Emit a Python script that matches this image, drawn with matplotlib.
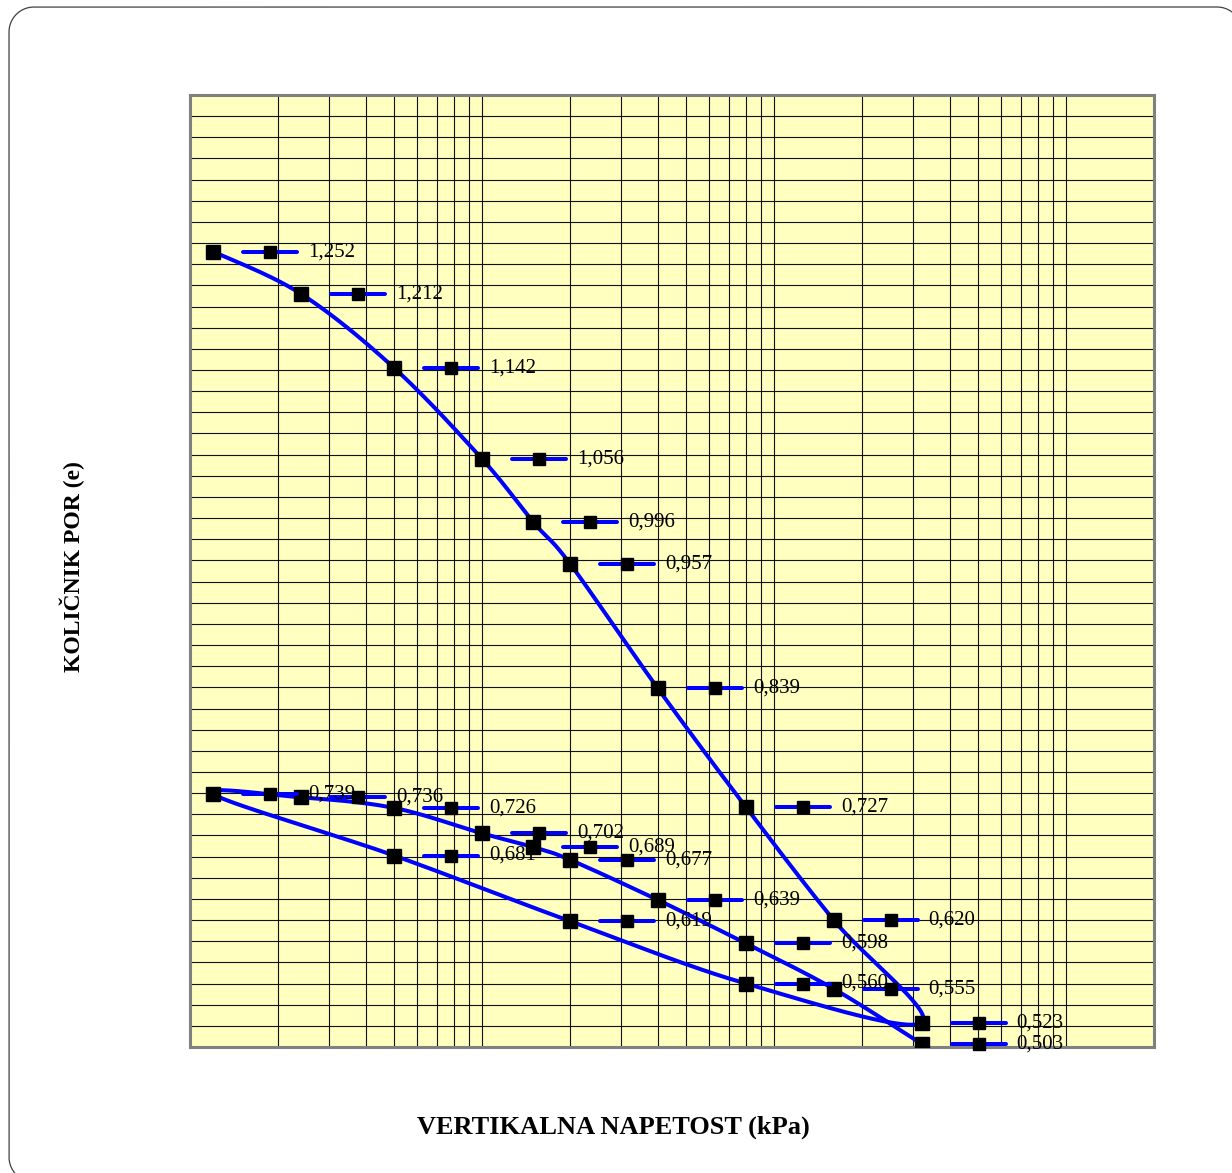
import numpy as np
import matplotlib
matplotlib.use("Agg")
import matplotlib.pyplot as plt
from matplotlib.lines import Line2D
from matplotlib.markers import MarkerStyle
from matplotlib.transforms import offset_copy, IdentityTransform
from matplotlib.ticker import FixedLocator, NullFormatter

# Oedometer test: loading, unloading and reloading steps
load_stress = [1.2, 2.4, 5, 10, 15, 20, 40, 80, 160, 320]
load_e = [1.252, 1.212, 1.142, 1.056, 0.996, 0.957, 0.839, 0.727, 0.620, 0.523]
unload_stress = [80, 20, 5, 1.2]
unload_e = [0.560, 0.619, 0.681, 0.739]
reload_stress = [2.4, 5, 10, 15, 20, 40, 80, 160, 320]
reload_e = [0.736, 0.726, 0.702, 0.689, 0.677, 0.639, 0.598, 0.555, 0.503]

x_label = "VERTIKALNA NAPETOST (kPa)"
y_label = "KOLIČNIK POR (e)"

stress = np.array(load_stress + unload_stress + reload_stress, dtype=float)
void_ratio = np.array(load_e + unload_e + reload_e, dtype=float)

W, H, DPI = 1232, 1173, 100
fig = plt.figure(figsize=(W / DPI, H / DPI), dpi=DPI)

# rounded chart-area frame (only the part lying inside the canvas)
R = 25.0
left, top = 9.0, H - 7.0
right_c, bottom_c = W + 10.0 - R, -9.0 + R


def arc(cx, cy, a0, a1):
    a = np.radians(np.linspace(a0, a1, 60))
    return cx + R * np.cos(a), cy + R * np.sin(a)


fx, fy = [], []
ax1, ay1 = arc(right_c, top - R, 53, 90)
fx += list(ax1); fy += list(ay1)
ax2, ay2 = arc(left + R, top - R, 90, 180)
fx += list(ax2); fy += list(ay2)
ax3, ay3 = arc(left + R, bottom_c, 180, 219)
fx += list(ax3); fy += list(ay3)
fig.add_artist(Line2D(fx, fy, transform=IdentityTransform(), color="#404040",
                      linewidth=0.9))

ax = fig.add_axes([190 / W, 1 - 1047 / H, 964 / W, 952 / H])
ax.set_facecolor("#FFFFC0")
ax.set_xscale("log")
ax.set_xlim(1, 2000)
ax.set_ylim(0.5, 1.4)

xgrid = [k * 10 ** n for n in range(4) for k in range(1, 10) if k * 10 ** n <= 2000]
ax.xaxis.set_major_locator(FixedLocator(xgrid))
ax.xaxis.set_minor_locator(FixedLocator([]))
ax.yaxis.set_major_locator(FixedLocator(np.round(np.arange(0.5, 1.4001, 0.02), 2)))
ax.xaxis.set_major_formatter(NullFormatter())
ax.yaxis.set_major_formatter(NullFormatter())
ax.tick_params(which="both", length=0)
ax.grid(True, which="major", color="#111111", linewidth=0.8)
ax.set_axisbelow(True)
for sp in ax.spines.values():
    sp.set_color("#808080")
    sp.set_linewidth(2.2)

# smoothed connecting curve (Catmull-Rom Bezier in display space)
pts = ax.transData.transform(np.column_stack([stress, void_ratio]))
n = len(pts)
curve = []
for i in range(n - 1):
    p0 = pts[max(i - 1, 0)]
    p1 = pts[i]
    p2 = pts[i + 1]
    p3 = pts[min(i + 2, n - 1)]
    c1 = p1 + (p2 - p0) / 6.0
    c2 = p2 - (p3 - p1) / 6.0
    t = np.linspace(0, 1, 40)[:, None]
    seg = ((1 - t) ** 3) * p1 + 3 * ((1 - t) ** 2) * t * c1 + 3 * (1 - t) * t ** 2 * c2 + t ** 3 * p2
    curve.append(seg if i == 0 else seg[1:])
curve = ax.transData.inverted().transform(np.vstack(curve))
ax.plot(curve[:, 0], curve[:, 1], color="#0000FF", linewidth=2.9,
        solid_capstyle="round", zorder=3)

ax.plot(stress, void_ratio, linestyle="none", marker="s", markersize=10.5,
        markerfacecolor="black", markeredgecolor="black", zorder=4)

# data labels with legend key
key_tr = offset_copy(ax.transData, fig=fig, x=57, y=0, units="dots")
key_line = MarkerStyle("_", capstyle="round")
ax.plot(stress, void_ratio, linestyle="none", marker=key_line, markersize=39.5,
        markeredgewidth=2.9, color="#0000FF", transform=key_tr, zorder=5,
        clip_on=False)
ax.plot(stress, void_ratio, linestyle="none", marker="s", markersize=8.6,
        markerfacecolor="black", markeredgecolor="black", transform=key_tr,
        zorder=6, clip_on=False)
for s, e in zip(stress, void_ratio):
    ax.annotate(f"{e:.3f}".replace(".", ","), (s, e), xytext=(95 * 0.72, 0),
                textcoords="offset points", ha="left", va="center",
                fontsize=15, family="Liberation Serif", zorder=7,
                annotation_clip=False)

fig.text(613 / W, 1 - 1127 / H, x_label, ha="center", va="center",
         fontsize=19, fontweight="bold", family="Liberation Serif")
fig.text(72 / W, 1 - 567 / H, y_label, ha="center", va="center", rotation=90,
         fontsize=17, fontweight="bold", family="Liberation Serif")

fig.savefig("out.png", dpi=DPI)
